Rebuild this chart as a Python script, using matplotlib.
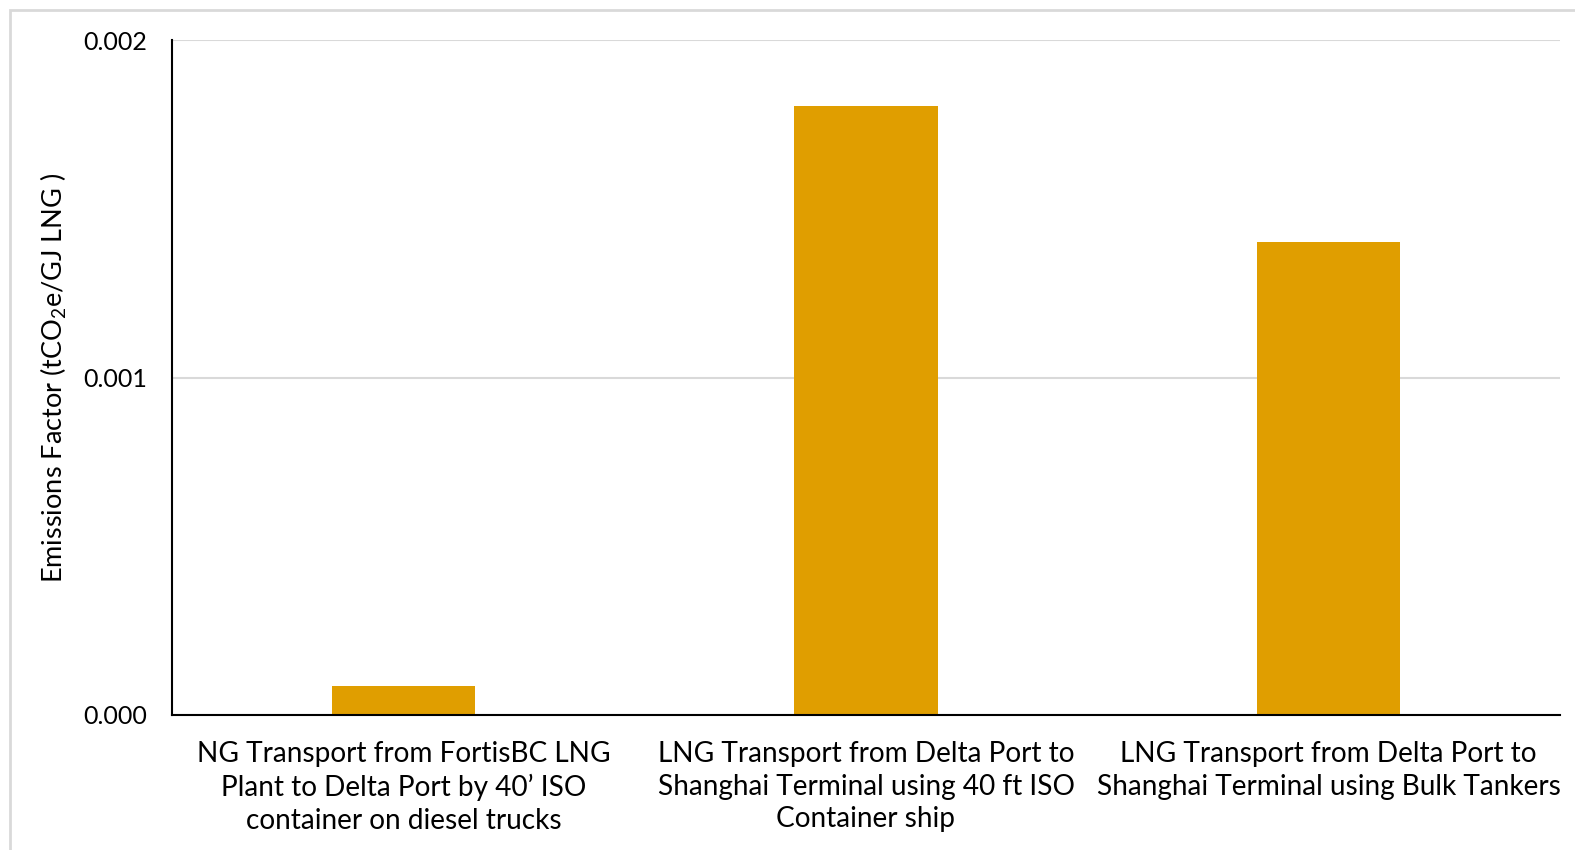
import matplotlib
matplotlib.use("Agg")
import matplotlib.pyplot as plt
from matplotlib.patches import Rectangle

plt.rcParams['font.family'] = ['Lato', 'DejaVu Sans']
plt.rcParams['mathtext.fontset'] = 'custom'
plt.rcParams['mathtext.rm'] = 'Lato'
plt.rcParams['mathtext.it'] = 'Lato:italic'

categories = [
    "NG Transport from FortisBC LNG\nPlant to Delta Port by 40\u2019 ISO\ncontainer on diesel trucks",
    "LNG Transport from Delta Port to\nShanghai Terminal using 40 ft ISO\nContainer ship",
    "LNG Transport from Delta Port to\nShanghai Terminal using Bulk Tankers",
]
values = [0.000086, 0.001804, 0.001401]
yticks = [0.0, 0.001, 0.002]
ytick_labels = ["0.000", "0.001", "0.002"]
ylabel = r"Emissions Factor (tCO$_2$e/GJ LNG )"

bar_color = "#E09E00"
grid_color = "#D9D9D9"

fig = plt.figure(figsize=(15.75, 8.5), dpi=100)
ax = fig.add_axes([172/1575, 1-715/850, (1560-172)/1575, (715-40)/850])

x = list(range(len(categories)))
ax.bar(x, values, width=0.31, color=bar_color, zorder=3)
ax.set_xlim(-0.5, len(categories) - 0.5)
ax.set_ylim(0, 0.002)
ax.set_yticks(yticks)
ax.set_yticklabels(ytick_labels, fontsize=18)
ax.set_xticks(x)
ax.set_xticklabels(categories, fontsize=20.2, linespacing=1.3)
ax.tick_params(axis='both', length=0)
ax.tick_params(axis='x', pad=19)
ax.tick_params(axis='y', pad=18)
ax.yaxis.grid(True, color=grid_color, linewidth=1.5, zorder=0)
ax.set_axisbelow(True)
for s in ['top', 'right']:
    ax.spines[s].set_visible(False)
for s in ['left', 'bottom']:
    ax.spines[s].set_color('black')
    ax.spines[s].set_linewidth(1.5)
    ax.spines[s].set_zorder(4)
ax.set_ylabel(ylabel, fontsize=19.5, labelpad=10)

border = Rectangle((10/1575, -0.05), 1.1, 1 - 10/850 + 0.05, transform=fig.transFigure,
                   fill=False, edgecolor=grid_color, linewidth=2, clip_on=False)
fig.patches.append(border)

fig.savefig("out.png", dpi=100, facecolor='white')
